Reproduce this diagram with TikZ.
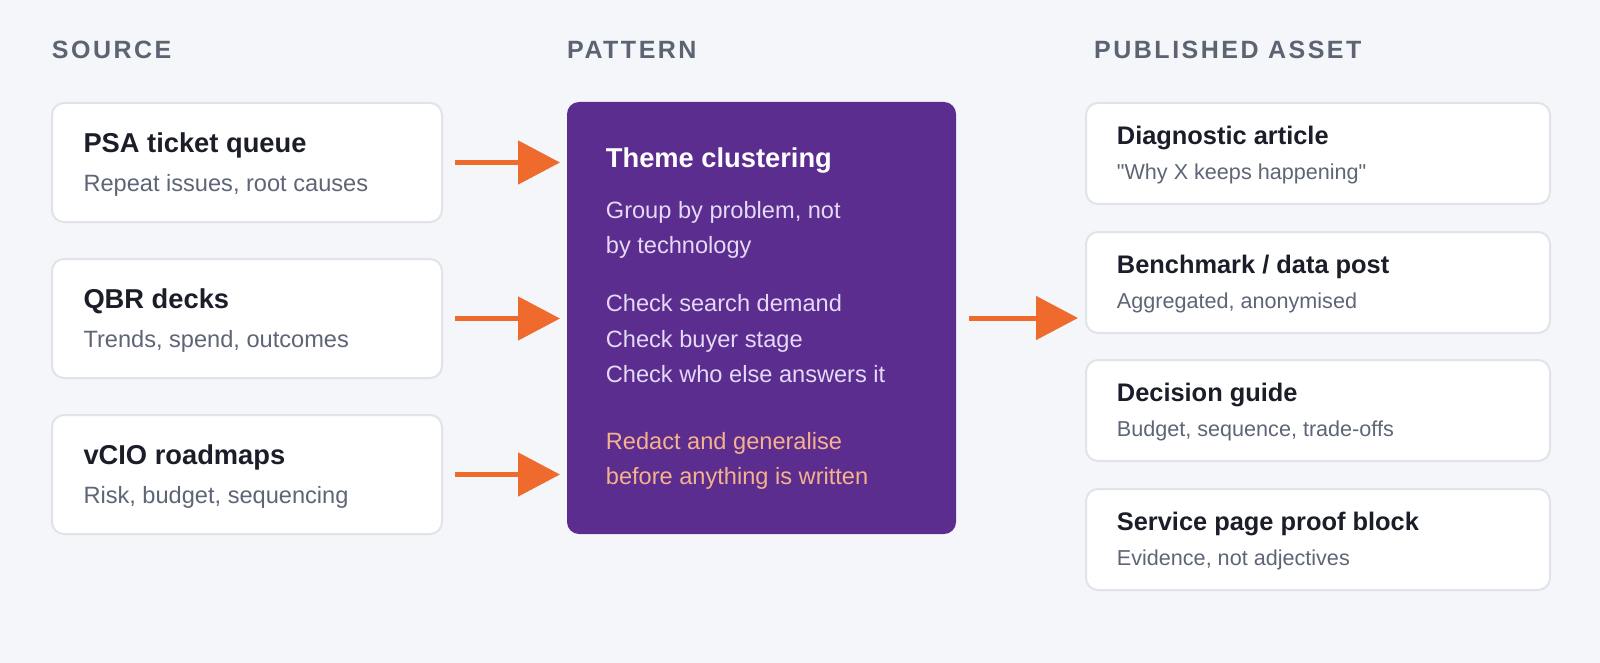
\documentclass[tikz,border=0pt]{standalone}
\usepackage{fontspec}
\setmainfont{Liberation Sans}
\newfontfamily\headfont[LetterSpace=10]{Liberation Sans}
\usetikzlibrary{arrows.meta,calc}

\definecolor{bg}{HTML}{F4F6FA}
\definecolor{cardline}{HTML}{E0E4EA}
\definecolor{headgray}{HTML}{5C6371}
\definecolor{ink}{HTML}{1B1E29}
\definecolor{subgray}{HTML}{5E6576}
\definecolor{plum}{HTML}{5B2D8E}
\definecolor{lilac}{HTML}{E4D9F6}
\definecolor{peach}{HTML}{F6B28C}
\definecolor{flowc}{HTML}{EE6B2D}

\begin{document}
\begin{tikzpicture}[x=1pt,y=-1pt,
  card/.style={draw=cardline, line width=2pt, fill=white, rounded corners=12pt, anchor=north west, inner sep=0pt},
  srccard/.style={card, minimum width=390pt, minimum height=119pt},
  outcard/.style={card, minimum width=464pt, minimum height=101pt},
  txt/.style={anchor=base west, inner sep=0pt},
  colhead/.style={txt, text=headgray, font=\headfont\bfseries\fontsize{25}{30}\selectfont},
  bigtitle/.style={txt, text=ink, font=\bfseries\fontsize{27.3}{32}\selectfont},
  bigsub/.style={txt, text=subgray, font=\fontsize{23.6}{28}\selectfont},
  outtitle/.style={txt, text=ink, font=\bfseries\fontsize{25.4}{30}\selectfont},
  outsub/.style={txt, text=subgray, font=\fontsize{21.6}{26}\selectfont},
  flow/.style={draw=flowc, line width=5pt, -{Triangle[length=42pt,width=43pt]}, shorten <=12pt, shorten >=6pt}]

\fill[bg] (0,0) rectangle (1600,663);
\useasboundingbox (0,0) rectangle (1600,663);

% column heads
\node[colhead] (h-src) at (51.7,58.3) {SOURCE};
\node[colhead] (h-pat) at (567,58.3) {PATTERN};
\node[colhead] (h-pub) at (1094,58.3) {PUBLISHED ASSET};

% sources
\node[srccard] (psa) at (51,102) {};
\node[srccard] (qbr) at (51,258) {};
\node[srccard] (vcio) at (51,414) {};

\node[bigtitle] (psa-t) at (83.3,152.6) {PSA ticket queue};
\node[bigsub] (psa-s) at (83.3,191.3) {Repeat issues, root causes};
\node[bigtitle] (qbr-t) at (83.3,308.6) {QBR decks};
\node[bigsub] (qbr-s) at (83.3,347.3) {Trends, spend, outcomes};
\node[bigtitle] (vcio-t) at (83.3,464.6) {vCIO roadmaps};
\node[bigsub] (vcio-s) at (83.3,503.3) {Risk, budget, sequencing};

% pattern
\node[card, draw=none, fill=plum, minimum width=389pt, minimum height=432pt] (pattern) at (566,101) {};

\node[bigtitle, text=white] (pat-t) at (605.7,168) {Theme clustering};
\node[bigsub, text=lilac] (pat-a1) at (605.7,218.3) {Group by problem, not};
\node[bigsub, text=lilac] (pat-a2) at (605.7,253.3) {by technology};
\node[bigsub, text=lilac] (pat-b1) at (605.7,311.7) {Check search demand};
\node[bigsub, text=lilac] (pat-b2) at (605.7,347) {Check buyer stage};
\node[bigsub, text=lilac] (pat-b3) at (605.7,382.7) {Check who else answers it};
\node[bigsub, text=peach] (pat-c1) at (605.7,449.3) {Redact and generalise};
\node[bigsub, text=peach] (pat-c2) at (605.7,484.3) {before anything is written};

% published assets
\node[outcard] (diag) at (1085,102) {};
\node[outcard] (bench) at (1085,231) {};
\node[outcard] (guide) at (1085,359) {};
\node[outcard] (proof) at (1085,488) {};

\node[outtitle] (diag-t) at (1116.7,144.5) {Diagnostic article};
\node[outsub] (diag-s) at (1116.7,179.5) {\textquotedbl Why X keeps happening\textquotedbl};
\node[outtitle] (bench-t) at (1116.7,273.5) {Benchmark / data post};
\node[outsub] (bench-s) at (1116.7,308.5) {Aggregated, anonymised};
\node[outtitle] (guide-t) at (1116.7,401.5) {Decision guide};
\node[outsub] (guide-s) at (1116.7,436.5) {Budget, sequence, trade-offs};
\node[outtitle] (proof-t) at (1116.7,530.5) {Service page proof block};
\node[outsub] (proof-s) at (1116.7,565.5) {Evidence, not adjectives};

% arrows
\draw[flow] (psa.east) -- (psa.east -| pattern.west);
\draw[flow] (qbr.east) -- (qbr.east -| pattern.west);
\draw[flow] (vcio.east) -- (vcio.east -| pattern.west);
\draw[flow, shorten >=7pt] (pattern.east) -- (pattern.east -| bench.west);

\end{tikzpicture}
\end{document}
